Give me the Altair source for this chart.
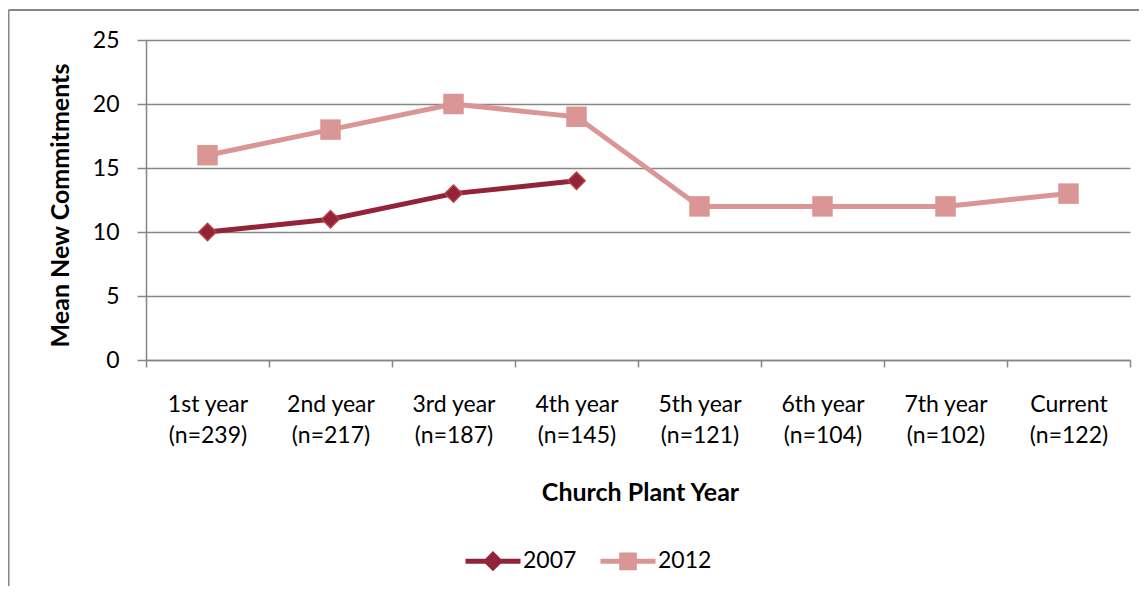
import altair as alt
import pandas as pd

categories = ["1st year", "2nd year", "3rd year", "4th year", "5th year", "6th year", "7th year", "Current"]
sample_sizes = [239, 217, 187, 145, 121, 104, 102, 122]
series_names = ["2007", "2012"]
values_2007 = [10, 11, 13, 14]
values_2012 = [16, 18, 20, 19, 12, 12, 12, 13]
y_ticks = [0, 5, 10, 15, 20, 25]
series_colors = ["#922338", "#D99694"]

FONT = "Lato"
GRAY = "#868686"
LABEL_SIZE = 23
TITLE_SIZE = 25

labels = [f"{c}|(n={n})" for c, n in zip(categories, sample_sizes)]
rows = []
for lab, v in zip(labels, values_2007):
    rows.append({"cat": lab, "series": "2007", "value": v})
for lab, v in zip(labels, values_2012):
    rows.append({"cat": lab, "series": "2012", "value": v})
df = pd.DataFrame(rows)
df07 = df[df.series == "2007"]
df12 = df[df.series == "2012"]

x_enc = alt.X(
    "cat:N",
    sort=labels,
    scale=alt.Scale(type="band", paddingInner=0, paddingOuter=0),
    axis=alt.Axis(
        title="Church Plant Year",
        labelExpr="split(datum.label, '|')",
        labelAngle=0,
        labelFont=FONT,
        labelFontSize=LABEL_SIZE,
        labelColor="#000000",
        labelLineHeight=31,
        labelPadding=26,
        tickBand="extent",
        tickSize=7,
        tickColor=GRAY,
        tickWidth=1.5,
        domainColor=GRAY,
        domainWidth=1.5,
        grid=False,
        titleFont=FONT,
        titleFontSize=TITLE_SIZE,
        titleFontWeight="bold",
        titleColor="#000000",
        titleX=494,
        titleY=132,
        titleBaseline="middle",
    ),
)
y_enc = alt.Y(
    "value:Q",
    scale=alt.Scale(domain=[0, 25], nice=False, zero=True),
    axis=alt.Axis(
        title="Mean New Commitments",
        values=y_ticks,
        grid=True,
        gridColor=GRAY,
        gridWidth=1.5,
        tickSize=9,
        tickColor=GRAY,
        tickWidth=1.5,
        domainColor=GRAY,
        domainWidth=1.5,
        labelFont=FONT,
        labelFontSize=LABEL_SIZE,
        labelColor="#000000",
        labelPadding=18,
        titleFont=FONT,
        titleFontSize=TITLE_SIZE,
        titleFontWeight="bold",
        titleColor="#000000",
        titleX=-86,
        titleY=165,
        titleBaseline="middle",
        titleAngle=-90,
    ),
)

color_scale = alt.Scale(domain=series_names, range=series_colors)
legend_shapes = [
    "M-1,0L1,0M-0.24,0L0,-0.24L0.24,0L0,0.24Z",
    "M-1,0L1,0M-0.23,-0.23L0.23,-0.23L0.23,0.23L-0.23,0.23Z",
]

legend = alt.Legend(
    title=None,
    orient="none",
    direction="horizontal",
    legendX=317,
    legendY=491,
    symbolSize=3025,
    symbolStrokeWidth=5,
    symbolOpacity=1,
    labelFont=FONT,
    labelFontSize=LABEL_SIZE,
    labelColor="#000000",
    labelOffset=0,
    columnPadding=13,
)

line_07 = alt.Chart(df07).mark_line(strokeWidth=5, color=series_colors[0]).encode(x=x_enc, y=y_enc)
line_12 = alt.Chart(df12).mark_line(strokeWidth=5, color=series_colors[1]).encode(x=x_enc, y=y_enc)

pts_2007 = alt.Chart(df07).mark_point(
    shape="diamond", filled=True, size=300, opacity=1,
    stroke="#B4453F", strokeWidth=1.5, fill=series_colors[0]
).encode(x=x_enc, y=y_enc)

pts_2012 = alt.Chart(df12).mark_point(
    shape="square", filled=True, size=420, opacity=1, fill=series_colors[1], strokeWidth=0
).encode(x=x_enc, y=y_enc)

# legend-only layer: draws no marks, legend comes from the explicit scale domains
legend_layer = alt.Chart(df).transform_filter("false").mark_point(filled=True, opacity=1).encode(
    x=x_enc,
    y=y_enc,
    fill=alt.Fill("series:N", scale=color_scale, legend=legend),
    stroke=alt.Stroke("series:N", scale=color_scale, legend=legend),
    shape=alt.Shape("series:N", scale=alt.Scale(domain=series_names, range=legend_shapes), legend=legend),
)

frame_df = pd.DataFrame({"k": [0]})
frame_top = alt.Chart(frame_df).mark_rule(color=GRAY, strokeWidth=2, clip=False).encode(
    x=alt.value(-137.5), x2=alt.value(1010), y=alt.value(-30)
)
frame_left = alt.Chart(frame_df).mark_rule(color=GRAY, strokeWidth=2, clip=False).encode(
    x=alt.value(-137.5), y=alt.value(-30), y2=alt.value(600)
)

chart = alt.layer(frame_top, frame_left, line_07, line_12, pts_2007, pts_2012, legend_layer).properties(
    width=984,
    height=320,
    padding={"left": 138, "top": 32, "right": 9, "bottom": 226},
    autosize=alt.AutoSizeParams(type="none"),
    background="#ffffff",
).configure_view(stroke=None)

chart.save("out.html", embed_options={"renderer": "svg", "actions": False})
